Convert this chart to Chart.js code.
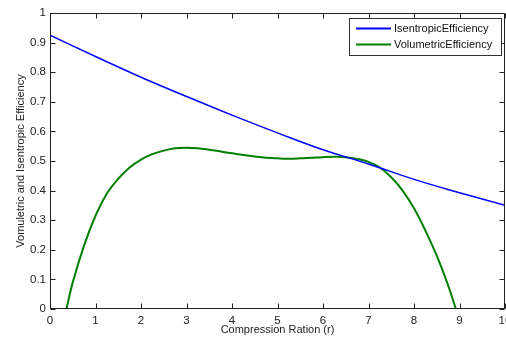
<!DOCTYPE html>
<html>
<head>
<meta charset="utf-8">
<script src="https://cdn.jsdelivr.net/npm/chart.js@4/dist/chart.umd.min.js"></script>
<style>
  html, body { margin: 0; padding: 0; background: #fff; }
  #chart { display: block; }
</style>
</head>
<body>
<canvas id="chart" width="506" height="343"></canvas>
<script>
// ---- data ----
const isenX = [0, 1, 2, 3, 4, 5, 6, 7, 8, 9, 10];
const isenY = [0.925, 0.853, 0.783, 0.718, 0.655, 0.595, 0.538, 0.49, 0.438, 0.393, 0.35];

const volX = [0.36, 0.5, 0.75, 1.0, 1.25, 1.5, 1.75, 2.0, 2.25, 2.5, 2.75, 3.0, 3.25, 3.5, 3.75, 4.0, 4.25, 4.5,
              4.75, 5.0, 5.25, 5.5, 5.75, 6.0, 6.25, 6.5, 6.75, 7.0, 7.25, 7.5, 7.75, 8.0, 8.25, 8.5, 8.75, 8.92];
const volY = [0, 0.09, 0.215, 0.315, 0.39, 0.44, 0.478, 0.505, 0.523, 0.535, 0.543, 0.545, 0.543, 0.538, 0.532, 0.526, 0.52, 0.515,
              0.511, 0.509, 0.508, 0.509, 0.511, 0.513, 0.514, 0.513, 0.507, 0.497, 0.478, 0.445, 0.40, 0.34, 0.265, 0.18, 0.08, 0];

const seriesLabels = ["IsentropicEfficiency", "VolumetricEfficiency"];
const xTitle = "Compression Ration (r)";
const yTitle = "Vomuletric and Isentropic Efficiency";

const FONT = "'Liberation Sans', Arial, sans-serif";
const INK = "#222";

const toPoints = (xs, ys) => xs.map((x, i) => ({ x, y: ys[i] }));

/* =======================
   MATLAB-style box, inner ticks, legend
======================= */
const matlabFrame = {
  id: "matlabFrame",
  afterDraw(chart) {
    const { ctx, chartArea: a, scales } = chart;
    ctx.save();
    ctx.strokeStyle = INK;
    ctx.lineWidth = 1;
    const L = Math.round(a.left) + 0.5, R = Math.round(a.right) - 0.5;
    const T = Math.round(a.top) + 0.5, B = Math.round(a.bottom) - 0.5;
    ctx.strokeRect(L, T, R - L, B - T);

    ctx.beginPath();
    scales.x.ticks.forEach(t => {
      const px = Math.round(scales.x.getPixelForValue(t.value)) + 0.5;
      ctx.moveTo(px, B); ctx.lineTo(px, B - 5);
      ctx.moveTo(px, T); ctx.lineTo(px, T + 5);
    });
    scales.y.ticks.forEach(t => {
      const py = Math.round(scales.y.getPixelForValue(t.value)) + 0.5;
      ctx.moveTo(L, py); ctx.lineTo(L + 5, py);
      ctx.moveTo(R, py); ctx.lineTo(R - 5, py);
    });
    ctx.stroke();

    // legend box (top right, inside the axes)
    const bx = 349.5, by = 18.5, bw = 152, bh = 37;
    ctx.fillStyle = "#fff";
    ctx.fillRect(bx, by, bw, bh);
    ctx.strokeStyle = "#333";
    ctx.strokeRect(bx, by, bw, bh);
    ctx.font = "11px " + FONT;
    ctx.textBaseline = "middle";
    chart.data.datasets.forEach((ds, i) => {
      const ly = by + 10 + i * 16;
      ctx.strokeStyle = ds.borderColor;
      ctx.lineWidth = 2;
      ctx.beginPath();
      ctx.moveTo(356, ly); ctx.lineTo(391, ly);
      ctx.stroke();
      ctx.fillStyle = "#111";
      ctx.fillText(ds.label, 394, ly);
    });
    ctx.restore();
  }
};

/* =======================
   Chart
======================= */
new Chart(document.getElementById("chart"), {
  type: "line",
  data: {
    datasets: [
      {
        label: seriesLabels[0],
        data: toPoints(isenX, isenY),
        borderColor: "#0000ff",
        borderWidth: 1.5,
        pointRadius: 0,
        tension: 0.4
      },
      {
        label: seriesLabels[1],
        data: toPoints(volX, volY),
        borderColor: "#008000",
        borderWidth: 2,
        pointRadius: 0,
        tension: 0.4
      }
    ]
  },
  options: {
    responsive: false,
    animation: false,
    layout: { padding: { top: 13, right: 1, left: 0, bottom: 0 } },
    plugins: {
      legend: { display: false },
      tooltip: { enabled: false }
    },
    scales: {
      x: {
        type: "linear",
        min: 0,
        max: 10,
        grid: { display: false, drawTicks: false },
        border: { display: false },
        ticks: {
          stepSize: 1,
          maxRotation: 0,
          autoSkip: false,
          padding: 5,
          color: INK,
          font: { family: FONT, size: 11.5 }
        },
        title: {
          display: true,
          text: xTitle,
          color: INK,
          font: { family: FONT, size: 11 },
          padding: { top: 0, bottom: 6 }
        },
        afterFit(s) { s.height = 34; s.paddingRight = 0; }
      },
      y: {
        min: 0,
        max: 1,
        grid: { display: false, drawTicks: false },
        border: { display: false },
        ticks: {
          stepSize: 0.1,
          autoSkip: false,
          padding: 4,
          color: INK,
          font: { family: FONT, size: 11.5 },
          callback: v => String(Math.round(v * 10) / 10)
        },
        title: {
          display: true,
          text: yTitle,
          color: INK,
          font: { family: FONT, size: 11 },
          padding: { top: 14, bottom: 0 }
        },
        afterFit(s) { s.width = 50; }
      }
    }
  },
  plugins: [matlabFrame]
});
</script>
</body>
</html>
